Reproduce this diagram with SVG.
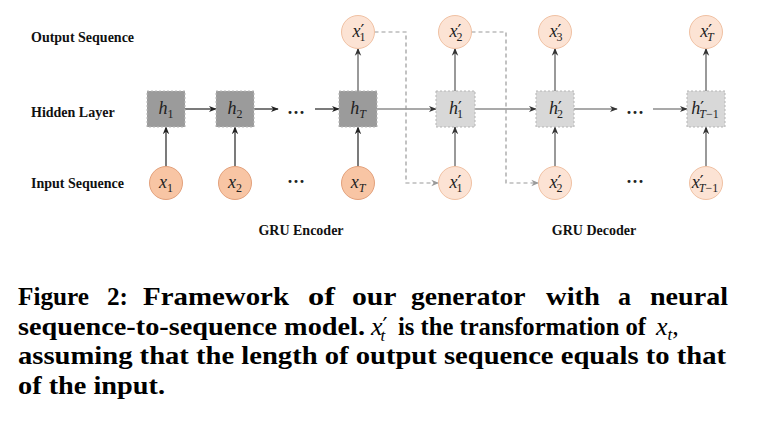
<svg xmlns="http://www.w3.org/2000/svg" width="767" height="427" viewBox="0 0 767 427">
<style>
.lbl{font-family:"Liberation Serif","Times New Roman",serif;font-weight:bold;font-size:14px;fill:#111}
.m{font-family:"Liberation Serif","Times New Roman",serif;font-size:18px;fill:#222}
.i{font-style:italic}
.s{font-size:12px}
.p{font-family:"DejaVu Serif",serif;font-size:17px}
.encbox{fill:#9b9b9b;stroke:#b8b8b8;stroke-width:1;stroke-dasharray:2,2}
.decbox{fill:#d8d8d8;stroke:#b5b5b5;stroke-width:1;stroke-dasharray:2,2}
.encc{fill:#f8c5a4;stroke:#e3a17c;stroke-width:1}
.decc{fill:#fce3d4;stroke:#f0c1a3;stroke-width:1}
.enc{stroke:#222;stroke-width:1.2;fill:none;marker-end:url(#ah)}
.dec{stroke:#555;stroke-width:1.2;fill:none;marker-end:url(#ah2)}
.dash{stroke:#9a9a9a;stroke-width:1.2;fill:none;stroke-dasharray:4,3;marker-end:url(#ahg)}
.dots{font-family:"Liberation Serif",serif;font-size:18px;font-weight:bold;fill:#222}
.cap{font-family:"Liberation Serif","Times New Roman",serif;font-weight:bold;font-size:26px;fill:#000}
</style>
<defs>
<marker id="ah" viewBox="0 0 10 10" refX="9" refY="5" markerWidth="8" markerHeight="8" markerUnits="userSpaceOnUse" orient="auto"><path d="M0,1 L10,5 L0,9 L3,5 Z" fill="#222"/></marker>
<marker id="ah2" viewBox="0 0 10 10" refX="9" refY="5" markerWidth="8" markerHeight="8" markerUnits="userSpaceOnUse" orient="auto"><path d="M0,1 L10,5 L0,9 L3,5 Z" fill="#333"/></marker>
<marker id="ahg" viewBox="0 0 10 10" refX="9" refY="5" markerWidth="8" markerHeight="8" markerUnits="userSpaceOnUse" orient="auto"><path d="M0,1 L10,5 L0,9 L3,5 Z" fill="#9a9a9a"/></marker>
</defs>

<g id="row-labels">
<text class="lbl" x="31" y="42">Output Sequence</text>
<text class="lbl" x="31" y="117">Hidden Layer</text>
<text class="lbl" x="31" y="188">Input Sequence</text>
<text class="lbl" x="301" y="235" text-anchor="middle">GRU Encoder</text>
<text class="lbl" x="594" y="235" text-anchor="middle">GRU Decoder</text>
</g>

<g id="connectors">
<path class="enc" d="M166,166.5 V127"/>
<path class="enc" d="M235,166.5 V127"/>
<path class="enc" d="M358,166.5 V127"/>
<path class="dec" d="M358,91 V48.5"/>
<path class="enc" d="M185,109 H216"/>
<path class="enc" d="M254,109 H278"/>
<path class="enc" d="M315,109 H339"/>
<path class="dec" d="M377,109 H436"/>
<path class="dec" d="M455,166.5 V127"/>
<path class="dec" d="M455,91 V48.5"/>
<path class="dec" d="M555,166.5 V127"/>
<path class="dec" d="M555,91 V48.5"/>
<path class="dec" d="M706,166.5 V127"/>
<path class="dec" d="M706,91 V48.5"/>
<path class="dec" d="M475,109 H536"/>
<path class="dec" d="M574,109 H617"/>
<path class="dec" d="M653,109 H687"/>
<path class="dash" d="M374.5,32 H406 V183 H438.5"/>
<path class="dash" d="M471.5,32 H506 V183 H538.5"/>
</g>

<g id="dots">
<text class="dots" x="296" y="119" text-anchor="middle">···</text>
<text class="dots" x="296" y="188" text-anchor="middle">···</text>
<text class="dots" x="635" y="119" text-anchor="middle">···</text>
<text class="dots" x="635" y="188" text-anchor="middle">···</text>
</g>

<g id="h1"><rect class="encbox" x="147" y="91" width="38" height="36"/><text class="m" x="166" y="114" text-anchor="middle"><tspan class="i">h</tspan><tspan class="s" dy="4">1</tspan></text></g>
<g id="h2"><rect class="encbox" x="216" y="91" width="38" height="36"/><text class="m" x="235" y="114" text-anchor="middle"><tspan class="i">h</tspan><tspan class="s" dy="4">2</tspan></text></g>
<g id="hT"><rect class="encbox" x="339" y="91" width="38" height="36"/><text class="m" x="358" y="114" text-anchor="middle"><tspan class="i">h</tspan><tspan class="s i" dy="4">T</tspan></text></g>

<g id="hp1"><rect class="decbox" x="436" y="91" width="39" height="36"/><text class="m" x="456" y="114" text-anchor="middle"><tspan class="i">h</tspan><tspan class="p" dy="-1">′</tspan><tspan class="s" dx="-5" dy="5">1</tspan></text></g>
<g id="hp2"><rect class="decbox" x="536" y="91" width="38" height="36"/><text class="m" x="556" y="114" text-anchor="middle"><tspan class="i">h</tspan><tspan class="p" dy="-1">′</tspan><tspan class="s" dx="-5" dy="5">2</tspan></text></g>
<g id="hpT1"><rect class="decbox" x="687" y="91" width="38" height="36"/><text class="m" x="705" y="114" text-anchor="middle"><tspan class="i">h</tspan><tspan class="p" dy="-1">′</tspan><tspan class="s" dx="-5" dy="5"><tspan class="i">T</tspan>−1</tspan></text></g>

<g id="x1"><circle class="encc" cx="166" cy="183" r="16.5"/><text class="m" x="166" y="188" text-anchor="middle"><tspan class="i">x</tspan><tspan class="s" dy="4">1</tspan></text></g>
<g id="x2"><circle class="encc" cx="235" cy="183" r="16.5"/><text class="m" x="235" y="188" text-anchor="middle"><tspan class="i">x</tspan><tspan class="s" dy="4">2</tspan></text></g>
<g id="xT"><circle class="encc" cx="358" cy="183" r="16.5"/><text class="m" x="358" y="188" text-anchor="middle"><tspan class="i">x</tspan><tspan class="s i" dy="4">T</tspan></text></g>

<g id="xin1"><circle class="decc" cx="455" cy="183" r="16.5"/><text class="m" x="456" y="188" text-anchor="middle"><tspan class="i">x</tspan><tspan class="p" dy="-1">′</tspan><tspan class="s" dx="-5" dy="5">1</tspan></text></g>
<g id="xin2"><circle class="decc" cx="555" cy="183" r="16.5"/><text class="m" x="556" y="188" text-anchor="middle"><tspan class="i">x</tspan><tspan class="p" dy="-1">′</tspan><tspan class="s" dx="-5" dy="5">2</tspan></text></g>
<g id="xinT1"><circle class="decc" cx="706" cy="183" r="16.5"/><text class="m" x="705" y="188" text-anchor="middle"><tspan class="i">x</tspan><tspan class="p" dy="-1">′</tspan><tspan class="s" dx="-5" dy="5"><tspan class="i">T</tspan>−1</tspan></text></g>

<g id="xo1"><circle class="decc" cx="358" cy="32" r="16.5"/><text class="m" x="359" y="37" text-anchor="middle"><tspan class="i">x</tspan><tspan class="p" dy="-1">′</tspan><tspan class="s" dx="-5" dy="5">1</tspan></text></g>
<g id="xo2"><circle class="decc" cx="455" cy="32" r="16.5"/><text class="m" x="456" y="37" text-anchor="middle"><tspan class="i">x</tspan><tspan class="p" dy="-1">′</tspan><tspan class="s" dx="-5" dy="5">2</tspan></text></g>
<g id="xo3"><circle class="decc" cx="555" cy="32" r="16.5"/><text class="m" x="556" y="37" text-anchor="middle"><tspan class="i">x</tspan><tspan class="p" dy="-1">′</tspan><tspan class="s" dx="-5" dy="5">3</tspan></text></g>
<g id="xoT"><circle class="decc" cx="706" cy="32" r="16.5"/><text class="m" x="707" y="37" text-anchor="middle"><tspan class="i">x</tspan><tspan class="p" dy="-1">′</tspan><tspan class="s i" dx="-5" dy="5">T</tspan></text></g>

<g id="caption">
<text class="cap" y="305">
<tspan x="18" textLength="71" lengthAdjust="spacingAndGlyphs">Figure</tspan>
<tspan x="107" textLength="21" lengthAdjust="spacingAndGlyphs">2:</tspan>
<tspan x="143" textLength="146" lengthAdjust="spacingAndGlyphs">Framework</tspan>
<tspan x="308" textLength="27" lengthAdjust="spacingAndGlyphs">of</tspan>
<tspan x="352" textLength="44" lengthAdjust="spacingAndGlyphs">our</tspan>
<tspan x="411" textLength="114" lengthAdjust="spacingAndGlyphs">generator</tspan>
<tspan x="546" textLength="54" lengthAdjust="spacingAndGlyphs">with</tspan>
<tspan x="618" textLength="13" lengthAdjust="spacingAndGlyphs">a</tspan>
<tspan x="650" textLength="78" lengthAdjust="spacingAndGlyphs">neural</tspan>
</text>
<text class="cap" x="18" y="334.5" textLength="347" lengthAdjust="spacingAndGlyphs">sequence-to-sequence model.</text>
<text class="cap" y="334.5"><tspan x="371" font-style="italic" font-weight="normal">x</tspan><tspan font-family="DejaVu Serif,serif" font-size="22" font-weight="normal" dy="-2">′</tspan><tspan font-size="17" font-style="italic" font-weight="normal" dx="-7" dy="8">t</tspan></text>
<text class="cap" x="398" y="334.5" textLength="248" lengthAdjust="spacingAndGlyphs">is the transformation of</text>
<text class="cap" y="334.5"><tspan x="656" font-style="italic" font-weight="normal">x</tspan><tspan font-size="17" font-style="italic" font-weight="normal" dy="5">t</tspan><tspan dy="-5" font-weight="normal">,</tspan></text>
<text class="cap" x="18" y="364" textLength="708" lengthAdjust="spacingAndGlyphs">assuming that the length of output sequence equals to that</text>
<text class="cap" x="18" y="393.5" textLength="147" lengthAdjust="spacingAndGlyphs">of the input.</text>
</g>
</svg>
